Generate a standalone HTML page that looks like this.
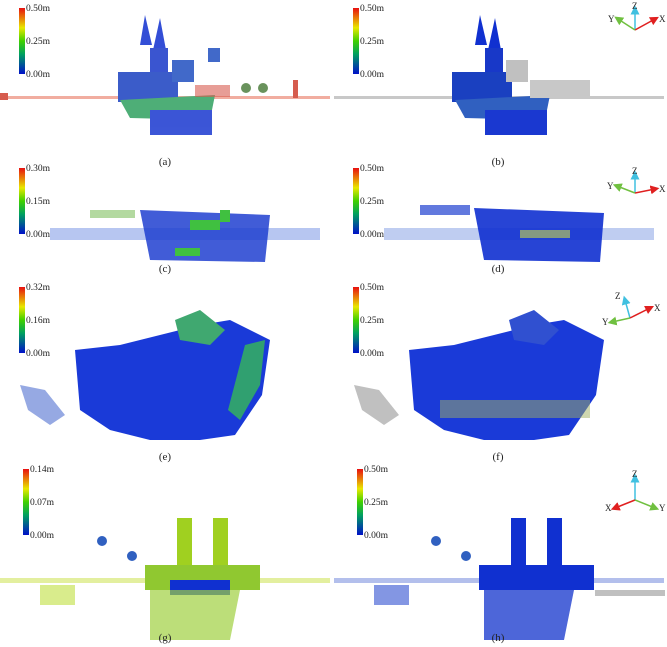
<!DOCTYPE html>
<html><head><meta charset="utf-8"><style>
html,body{margin:0;padding:0;background:#fff}
svg{display:block}
text{font-family:"Liberation Serif",serif;fill:#222}
</style></head><body>
<svg id="fig" width="667" height="647" viewBox="0 0 667 647">
<defs>
<linearGradient id="cb" x1="0" y1="1" x2="0" y2="0">
<stop offset="0" stop-color="#0010c8"/><stop offset="0.3" stop-color="#00a060"/><stop offset="0.5" stop-color="#40d000"/><stop offset="0.7" stop-color="#e8e800"/><stop offset="1" stop-color="#e81010"/></linearGradient>
<marker id="ar" markerWidth="6" markerHeight="6" refX="3" refY="3" orient="auto"><path d="M0,0L6,3L0,6z" fill="context-stroke"/></marker>
</defs>

<!-- Panel a -->
<g>
<g opacity="0.85">
<rect x="0" y="96" width="330" height="3" fill="#e04020" opacity="0.5"/>
<polygon points="145,15 152,45 140,45" fill="#1030d0"/>
<polygon points="160,18 166,50 153,50" fill="#1030d0"/>
<rect x="150" y="48" width="18" height="40" fill="#1838c8"/>
<rect x="118" y="72" width="60" height="30" fill="#1a40c0"/>
<rect x="172" y="60" width="22" height="22" fill="#2050c0"/>
<polygon points="120,100 215,95 210,120 130,118" fill="#30a060"/>
<rect x="150" y="110" width="62" height="25" fill="#1a38d0"/>
<rect x="195" y="85" width="35" height="12" fill="#d04030" opacity="0.6"/>
<rect x="208" y="48" width="12" height="14" fill="#2050c0"/>
<circle cx="246" cy="88" r="5" fill="#508040"/>
<circle cx="263" cy="88" r="5" fill="#508040"/>
<rect x="293" y="80" width="5" height="18" fill="#d04030"/>
<rect x="0" y="93" width="8" height="7" fill="#d04030"/>
</g>
</g>
<!-- Panel b -->
<g>
<rect x="334" y="96" width="330" height="3" fill="#c8c8c8"/>
<polygon points="480,15 487,45 475,45" fill="#1030d0"/>
<polygon points="495,18 501,50 488,50" fill="#1030d0"/>
<rect x="485" y="48" width="18" height="40" fill="#1838c8"/>
<rect x="452" y="72" width="60" height="30" fill="#1a40c0"/>
<rect x="506" y="60" width="22" height="22" fill="#c0c0c0"/>
<polygon points="455,100 550,95 545,120 465,118" fill="#3060c0"/>
<rect x="485" y="110" width="62" height="25" fill="#1a38d0"/>
<rect x="530" y="80" width="60" height="18" fill="#c8c8c8"/>
</g>
<!-- Panel c -->
<g>
<rect x="50" y="228" width="270" height="12" fill="#6080e0" opacity="0.45"/>
<polygon points="140,210 270,215 265,262 150,260" fill="#2040d0" opacity="0.85"/>
<rect x="190" y="220" width="30" height="10" fill="#40c040"/>
<rect x="220" y="210" width="10" height="12" fill="#40c040"/>
<rect x="175" y="248" width="25" height="8" fill="#40c040"/>
<rect x="90" y="210" width="45" height="8" fill="#80c060" opacity="0.6"/>
</g>
<!-- Panel d -->
<g>
<rect x="384" y="228" width="270" height="12" fill="#7090e0" opacity="0.45"/>
<polygon points="474,208 604,213 600,262 484,260" fill="#1030d0" opacity="0.9"/>
<rect x="420" y="205" width="50" height="10" fill="#2040d0" opacity="0.7"/>
<rect x="520" y="230" width="50" height="8" fill="#b0c060" opacity="0.7"/>
</g>
<!-- Panel e -->
<g>
<polygon points="75,350 120,345 160,335 200,325 230,320 270,340 262,395 235,435 200,440 150,440 110,430 80,410" fill="#1a3ad8"/>
<polygon points="175,320 200,310 225,330 210,345 180,340" fill="#40a870"/>
<polygon points="245,345 265,340 260,385 240,420 228,410" fill="#30a070"/>
<polygon points="20,385 45,390 65,415 50,425 28,410" fill="#5070d0" opacity="0.6"/>
</g>
<!-- Panel f -->
<g>
<polygon points="409,350 454,345 494,335 534,325 564,320 604,340 596,395 569,435 534,440 484,440 444,430 414,410" fill="#1a3ad8"/>
<polygon points="509,320 534,310 559,330 544,345 514,340" fill="#3050d0"/>
<polygon points="354,385 379,390 399,415 384,425 362,410" fill="#c0c0c0"/>
<rect x="440" y="400" width="150" height="18" fill="#a0b060" opacity="0.5"/>
</g>
<!-- Panel g -->
<g>
<rect x="0" y="578" width="330" height="5" fill="#c8e040" opacity="0.5"/>
<rect x="177" y="518" width="15" height="65" fill="#a0d020"/>
<rect x="213" y="518" width="15" height="65" fill="#a0d020"/>
<rect x="145" y="565" width="115" height="25" fill="#90c830"/>
<rect x="170" y="580" width="60" height="15" fill="#1030d0"/>
<polygon points="150,590 240,590 230,640 150,640" fill="#a0d040" opacity="0.7"/>
<rect x="40" y="585" width="35" height="20" fill="#c0e040" opacity="0.6"/>
<ellipse cx="102" cy="541" rx="5" ry="5" fill="#3060c0"/>
<ellipse cx="132" cy="556" rx="5" ry="5" fill="#3060c0"/>
</g>
<!-- Panel h -->
<g>
<rect x="334" y="578" width="330" height="5" fill="#4060d0" opacity="0.4"/>
<rect x="511" y="518" width="15" height="65" fill="#1030d0"/>
<rect x="547" y="518" width="15" height="65" fill="#1030d0"/>
<rect x="479" y="565" width="115" height="25" fill="#1030d0"/>
<polygon points="484,590 574,590 564,640 484,640" fill="#2040d0" opacity="0.8"/>
<rect x="374" y="585" width="35" height="20" fill="#3050d0" opacity="0.6"/>
<ellipse cx="436" cy="541" rx="5" ry="5" fill="#3060c0"/>
<ellipse cx="466" cy="556" rx="5" ry="5" fill="#3060c0"/>
<rect x="595" y="590" width="70" height="6" fill="#c0c0c0"/>
</g>

<g id="bars"></g>
<g id="labels"></g>
<g id="axes"></g>
</svg>
<script>
const cbX = [19,353,19,353,19,353,23,357];
const cbTop = [8,8,168,168,287,287,469,469];
const cbHeight = 66;
const maxVals = ["0.50m","0.50m","0.30m","0.50m","0.32m","0.50m","0.14m","0.50m"];
const midVals = ["0.25m","0.25m","0.15m","0.25m","0.16m","0.25m","0.07m","0.25m"];
const panelLabels = ["(a)","(b)","(c)","(d)","(e)","(f)","(g)","(h)"];
const labelX = [165,498,165,498,165,498,165,498];
const labelY = [165,165,272,272,460,460,641,641];
const NS="http://www.w3.org/2000/svg";
const bars=document.getElementById('bars');
for(let i=0;i<8;i++){
  const r=document.createElementNS(NS,'rect');
  r.setAttribute('x',cbX[i]);r.setAttribute('y',cbTop[i]);r.setAttribute('width',6);r.setAttribute('height',cbHeight);r.setAttribute('fill','url(#cb)');
  
  
  bars.appendChild(r);
  const vals=[maxVals[i],midVals[i],"0.00m"];
  for(let k=0;k<3;k++){
    const t=document.createElementNS(NS,'text');
    t.setAttribute('x',cbX[i]+7);t.setAttribute('y',cbTop[i]+3+k*cbHeight/2);t.setAttribute('font-size','9.5');
    t.textContent=vals[k];
    
    
    bars.appendChild(t);
  }
  const l=document.createElementNS(NS,'text');
  l.setAttribute('x',labelX[i]);l.setAttribute('y',labelY[i]);l.setAttribute('font-size','11');l.setAttribute('text-anchor','middle');
  l.textContent=panelLabels[i];
  
  
  document.getElementById('labels').appendChild(l);
}
// axis triads: origin, then end points for Z (cyan), X (red), Y (green)
const triads=[
 {o:[635,30],z:[635,10],r:[655,19],g:[618,19],rl:"X",gl:"Y"},
 {o:[635,193],z:[635,175],r:[655,189],g:[617,186],rl:"X",gl:"Y"},
 {o:[630,318],z:[625,300],r:[650,308],g:[612,322],rl:"X",gl:"Y"},
 {o:[635,500],z:[635,478],r:[615,508],g:[655,508],rl:"X",gl:"Y"}];
const ax=document.getElementById('axes');
triads.forEach(tr=>{
  [[tr.z,"#40c0e0","Z"],[tr.r,"#e02020",tr.rl],[tr.g,"#70c040",tr.gl]].forEach(([p,c,n])=>{
    const ln=document.createElementNS(NS,'line');
    ln.setAttribute('x1',tr.o[0]);ln.setAttribute('y1',tr.o[1]);ln.setAttribute('x2',p[0]);ln.setAttribute('y2',p[1]);
    ln.setAttribute('stroke',c);ln.setAttribute('stroke-width','1.5');ln.setAttribute('marker-end','url(#ar)');
    
    
    ax.appendChild(ln);
    const t=document.createElementNS(NS,'text');
    const dx=p[0]-tr.o[0],dy=p[1]-tr.o[1];
    t.setAttribute('x',p[0]+(dx>0?4:dx<0?-10:-3));t.setAttribute('y',p[1]+(dy<-15?-1:3));t.setAttribute('font-size','9');
    t.textContent=n;
    
    
    ax.appendChild(t);
  });
});
</script>
</body></html>
